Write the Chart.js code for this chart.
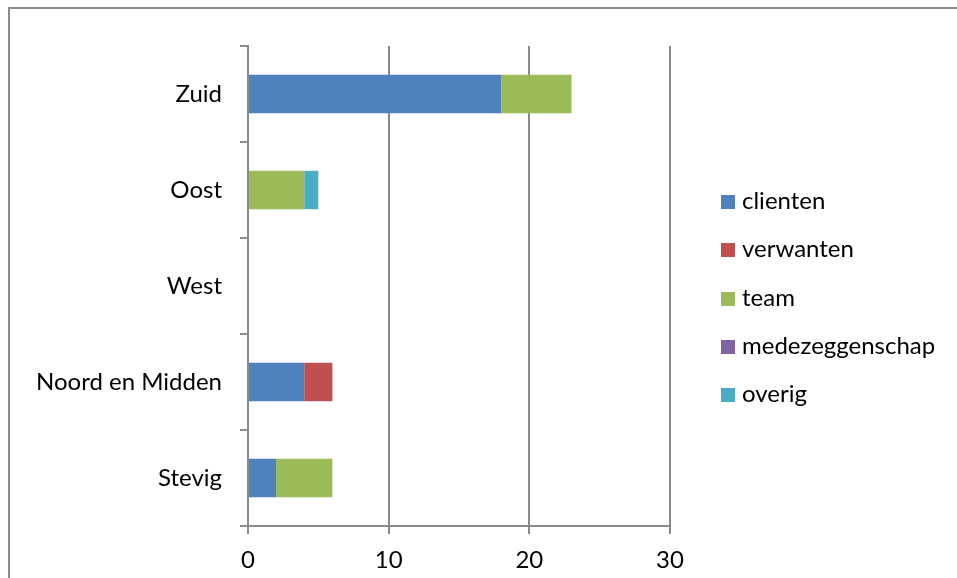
<!DOCTYPE html>
<html>
<head>
<meta charset="utf-8">
<script src="https://cdn.jsdelivr.net/npm/chart.js@4/dist/chart.umd.min.js"></script>
<style>
  html, body { margin: 0; padding: 0; background: #fff; overflow: hidden; }
  #wrap { position: relative; width: 957px; height: 578px; }
  #frame {
    position: absolute; left: 8px; top: 7px; width: 1200px; height: 1000px;
    border: 2px solid #8a8a8a; box-sizing: border-box;
  }
  #grafico { position: absolute; left: 0; top: 0; }
  #leyenda {
    position: absolute; left: 721px; top: 176px; margin: 0; padding: 0;
    list-style: none; font-family: Lato, sans-serif; font-size: 24px; color: #000;
  }
  #leyenda li { height: 48.3px; line-height: 48px; white-space: nowrap; }
  #leyenda span {
    display: inline-block; width: 14px; height: 14px; margin-right: 7px; vertical-align: 0px;
  }
</style>
</head>
<body>
<div id="wrap">
  <div id="frame"></div>
  <canvas id="grafico" width="957" height="578"></canvas>
  <ul id="leyenda"></ul>
</div>
<script>
// Regio's en aantallen per groep
const regios = ["Zuid", "Oost", "West", "Noord en Midden", "Stevig"];
const clienten = [18, 0, 0, 4, 2];
const verwanten = [0, 0, 0, 2, 0];
const team = [5, 4, 0, 0, 4];
const medezeggenschap = [0, 0, 0, 0, 0];
const overig = [0, 1, 0, 0, 0];
const xTicks = [0, 10, 20, 30];

const series = [
  { label: "clienten", data: clienten, color: "#4F81BD" },
  { label: "verwanten", data: verwanten, color: "#C0504D" },
  { label: "team", data: team, color: "#9BBB59" },
  { label: "medezeggenschap", data: medezeggenschap, color: "#8064A2" },
  { label: "overig", data: overig, color: "#4BACC6" },
];

const fuente = { family: "Lato, sans-serif", size: 24 };
const gris = "#8a8a8a";

const config = {
  type: "bar",
  data: {
    labels: regios,
    datasets: series.map((s) => ({
      label: s.label,
      data: s.data,
      backgroundColor: s.color,
      borderWidth: 0,
      categoryPercentage: 1,
      barPercentage: 0.4,
    })),
  },
  options: {
    indexAxis: "y",
    responsive: false,
    animation: false,
    layout: { padding: { top: 46, right: 287, left: 0, bottom: 0 } },
    plugins: { legend: { display: false }, tooltip: { enabled: false } },
    scales: {
      x: {
        stacked: true,
        min: 0,
        max: 30,
        afterBuildTicks: (scale) => {
          scale.ticks = xTicks.map((v) => ({ value: v }));
        },
        afterFit: (scale) => { scale.height = 52; },
        grid: { color: gris, lineWidth: 2, tickLength: 8 },
        border: { color: gris, width: 2 },
        ticks: { color: "#000", font: fuente, padding: 12 },
      },
      y: {
        stacked: true,
        afterFit: (scale) => { scale.width = 248; },
        grid: { color: gris, lineWidth: 2, tickLength: 8, drawOnChartArea: false, offset: true },
        border: { color: gris, width: 2 },
        ticks: { color: "#000", font: fuente, padding: 18 },
      },
    },
  },
};

new Chart(document.getElementById("grafico"), config);

// Leyenda a la derecha
const leyenda = document.getElementById("leyenda");
series.forEach((s) => {
  const li = document.createElement("li");
  const caja = document.createElement("span");
  caja.style.background = s.color;
  li.appendChild(caja);
  li.appendChild(document.createTextNode(s.label));
  leyenda.appendChild(li);
});
</script>
</body>
</html>
